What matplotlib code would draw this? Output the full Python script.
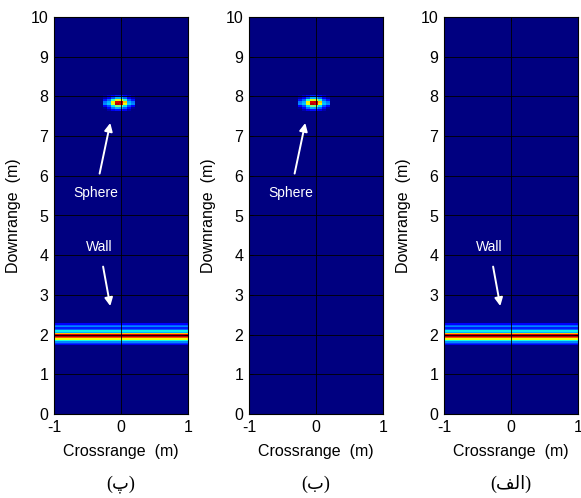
import numpy as np
import matplotlib
matplotlib.use("Agg")
import matplotlib.pyplot as plt

# ---- data -------------------------------------------------------------
crossrange_ticks = [-1, 0, 1]
downrange_ticks = list(range(0, 11))

# wall response: downrange rows (m) and normalised level, uniform in crossrange
wall_range = [2.27, 2.235, 2.20, 2.165, 2.13, 2.095, 2.06, 2.025,
              1.99, 1.955, 1.92, 1.885, 1.85, 1.815, 1.78, 1.745]
wall_level = [0.12, 0.22, 0.26, 0.15, 0.22, 0.36, 0.3, 0.7,
              0.92, 0.95, 0.82, 0.64, 0.38, 0.26, 0.18, 0.1]

# sphere response: small patch of cells (crossrange columns x downrange rows)
sphere_cross = [-0.24, -0.18, -0.12, -0.06, 0.0, 0.06, 0.12, 0.18]
sphere_down = [8.0, 7.95, 7.9, 7.85, 7.8, 7.75, 7.7, 7.65]
sphere_level = [
    [0.02, 0.06, 0.12, 0.16, 0.16, 0.12, 0.06, 0.02],
    [0.04, 0.1, 0.2, 0.3, 0.3, 0.22, 0.1, 0.04],
    [0.14, 0.22, 0.4, 0.62, 0.62, 0.42, 0.22, 0.14],
    [0.24, 0.3, 0.66, 0.92, 0.94, 0.7, 0.3, 0.24],
    [0.26, 0.32, 0.62, 0.95, 0.92, 0.64, 0.32, 0.26],
    [0.12, 0.2, 0.34, 0.5, 0.48, 0.34, 0.2, 0.12],
    [0.02, 0.12, 0.24, 0.3, 0.28, 0.22, 0.12, 0.02],
    [0.0, 0.04, 0.1, 0.14, 0.14, 0.1, 0.04, 0.0],
]

captions = ["(\u067e)", "(\u0628)", "(\u0627\u0644\u0641)"]
# visual (shaped, left-to-right) forms of the captions
captions_visual = ["(\ufb56)", "(\ufe8f)", "(\ufed2\ufedf\ufe8d)"]


def edges(centers):
    c = np.asarray(centers, dtype=float)
    mid = (c[:-1] + c[1:]) / 2
    return np.concatenate([[c[0] - (mid[0] - c[0])], mid,
                           [c[-1] + (c[-1] - mid[-1])]])


plt.rcParams['font.family'] = ['Liberation Sans', 'DejaVu Sans']
plt.rcParams['axes.unicode_minus'] = False
fig = plt.figure(figsize=(5.81, 4.98), dpi=100)
cmap = plt.get_cmap('jet')

lefts = [54, 249, 444]
panels = [dict(wall=True, sphere=True, notes=['Sphere', 'Wall']),
          dict(wall=False, sphere=True, notes=['Sphere']),
          dict(wall=True, sphere=False, notes=['Wall'])]

W, H = 581, 498
for i, (lx, p) in enumerate(zip(lefts, panels)):
    ax = fig.add_axes([lx / W, 1 - 414 / H, 134 / W, 397 / H])
    ax.set_facecolor(cmap(0.0))
    if p['wall']:
        z = np.array(wall_level)[:, None]
        ax.pcolormesh([-1, 1], edges(wall_range), z, cmap=cmap,
                      vmin=0, vmax=1, shading='flat')
    if p['sphere']:
        ax.pcolormesh(edges(sphere_cross), edges(sphere_down),
                      np.array(sphere_level), cmap=cmap, vmin=0, vmax=1,
                      shading='flat')
    ax.set_xlim(-1, 1)
    ax.set_ylim(0, 10)
    ax.set_xticks(crossrange_ticks)
    ax.set_yticks(downrange_ticks)
    ax.grid(True, color='black', linewidth=0.6)
    ax.set_axisbelow(False)
    ax.tick_params(direction='in', top=True, right=True, length=3,
                   width=0.6, labelsize=11.5)
    ax.tick_params(axis='x', pad=4)
    ax.tick_params(axis='y', pad=4)
    for s in ax.spines.values():
        s.set_linewidth(0.8)
    ax.set_xlabel('Crossrange  (m)', fontsize=11.5, labelpad=7)
    ax.set_ylabel('Downrange  (m)', fontsize=11.5, labelpad=7)

    if 'Sphere' in p['notes']:
        ax.annotate('Sphere', xy=(-0.16, 7.33), xytext=(-0.38, 5.57),
                    color='white', fontsize=10, ha='center', va='center',
                    arrowprops=dict(arrowstyle='-|>', color='white', lw=1.4,
                                    mutation_scale=12, shrinkA=7, shrinkB=0))
    if 'Wall' in p['notes']:
        ax.annotate('Wall', xy=(-0.16, 2.72), xytext=(-0.32, 4.2),
                    color='white', fontsize=10, ha='center', va='center',
                    arrowprops=dict(arrowstyle='-|>', color='white', lw=1.4,
                                    mutation_scale=12, shrinkA=7, shrinkB=0))

    fig.text((lx + 67) / W, 1 - 484 / H, captions_visual[i],
             family=['Liberation Serif', 'DejaVu Sans'], fontsize=13,
             ha='center', va='center')

fig.savefig('out.png', dpi=100, facecolor='white')
